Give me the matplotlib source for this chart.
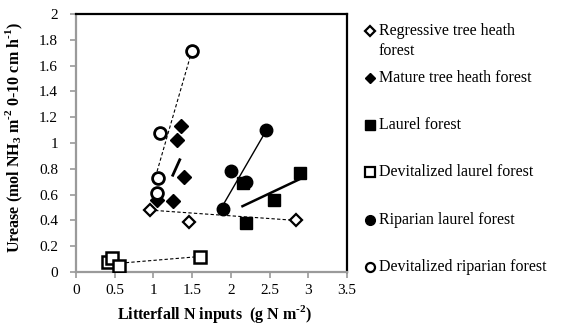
import matplotlib
matplotlib.use("Agg")
import matplotlib.pyplot as plt
from matplotlib.lines import Line2D
import numpy as np

plt.rcParams['font.family'] = ['Liberation Serif', 'DejaVu Serif']
plt.rcParams['mathtext.fontset'] = 'custom'
plt.rcParams['mathtext.rm'] = 'Liberation Serif:bold'
plt.rcParams['mathtext.bf'] = 'Liberation Serif:bold'

# litterfall N inputs (g N m-2) and urease activity per forest type
regressive_x = [0.95, 1.46, 2.84]
regressive_y = [0.48, 0.39, 0.40]
mature_x = [1.04, 1.25, 1.40, 1.30, 1.35]
mature_y = [0.56, 0.55, 0.74, 1.02, 1.13]
laurel_x = [2.20, 2.56, 2.89, 2.16]
laurel_y = [0.38, 0.56, 0.765, 0.69]
devit_laurel_x = [0.41, 0.46, 0.55, 1.60]
devit_laurel_y = [0.08, 0.105, 0.05, 0.12]
riparian_x = [1.90, 2.00, 2.20, 2.46]
riparian_y = [0.49, 0.78, 0.70, 1.10]
devit_riparian_x = [1.05, 1.06, 1.08, 1.50]
devit_riparian_y = [0.61, 0.73, 1.08, 1.71]

# trend line end points
regressive_fit = ([0.95, 2.84], [0.48, 0.40])
mature_fit = ([1.25, 1.34], [0.75, 0.87])
laurel_fit = ([2.15, 2.89], [0.51, 0.72])
devit_laurel_fit = ([0.50, 1.60], [0.065, 0.12])
riparian_fit = ([1.90, 2.46], [0.52, 1.10])
devit_riparian_fit = ([1.047, 1.49], [0.78, 1.70])

labels = ["Regressive tree heath\nforest", "Mature tree heath forest",
          "Laurel forest", "Devitalized laurel forest",
          "Riparian laurel forest", "Devitalized riparian forest"]

fig = plt.figure(figsize=(5.61, 3.30), dpi=100)
ax = fig.add_axes([76 / 561, 1 - 272 / 330, 271 / 561, 258 / 330])

ax.plot(*regressive_fit, ls=(0, (3, 2)), color='black', lw=0.8)
ax.plot(*mature_fit, color='black', lw=2.0)
ax.plot(*laurel_fit, color='black', lw=1.8)
ax.plot(*devit_laurel_fit, ls=(0, (3, 2)), color='black', lw=0.8)
ax.plot(*riparian_fit, color='black', lw=1.0)
ax.plot(*devit_riparian_fit, ls=(0, (3, 2)), color='black', lw=0.8)

styles = [
    dict(marker='D', ms=6.5, mfc='white', mec='black', mew=1.6),
    dict(marker='D', ms=7.0, mfc='black', mec='black', mew=1.0),
    dict(marker='s', ms=9.0, mfc='black', mec='black', mew=1.0),
    dict(marker='s', ms=8.5, mfc='white', mec='black', mew=1.8),
    dict(marker='o', ms=9.0, mfc='black', mec='black', mew=1.0),
    dict(marker='o', ms=8.5, mfc='white', mec='black', mew=2.0),
]
series = [(regressive_x, regressive_y), (mature_x, mature_y),
          (laurel_x, laurel_y), (devit_laurel_x, devit_laurel_y),
          (riparian_x, riparian_y), (devit_riparian_x, devit_riparian_y)]
for (xs, ys), st in zip(series, styles):
    ax.plot(xs, ys, ls='none', zorder=3, **st)

ax.set_xlim(0, 3.5)
ax.set_ylim(0, 2)
ax.set_xticks(np.arange(0, 3.51, 0.5))
ax.set_yticks(np.arange(0, 2.01, 0.2))
ax.set_xticklabels(['0', '0.5', '1', '1.5', '2', '2.5', '3', '3.5'])
ax.set_yticklabels(['0', '0.2', '0.4', '0.6', '0.8', '1', '1.2', '1.4',
                    '1.6', '1.8', '2'])
ax.tick_params(direction='out', length=4, width=1.2, color='#9a9a9a',
               labelsize=11)
ax.tick_params(axis='y', pad=9)
ax.tick_params(axis='x', pad=5)
for side in ['left', 'bottom']:
    ax.spines[side].set_color('#9a9a9a')
    ax.spines[side].set_linewidth(1.6)
for side in ['top', 'right']:
    ax.spines[side].set_color('black')
    ax.spines[side].set_linewidth(1.6)

ax.set_xlabel(r"Litterfall N inputs  (g N m$^{\text{-}2}$)", fontsize=11.5,
              fontweight='bold')
ax.set_ylabel(r"Urease (mol NH$_{3}$ m$^{\text{-}2}$ 0-10 cm h$^{\text{-}1}$)",
              fontsize=11.5, fontweight='bold')
ax.xaxis.set_label_coords(0.51, -0.12)
ax.yaxis.set_label_coords(-0.19, 0.52)

# legend drawn in pixel coordinates to the right of the plot area
lax = fig.add_axes([0, 0, 1, 1], facecolor='none')
lax.set_xlim(0, 561)
lax.set_ylim(330, 0)
lax.axis('off')
legend_y = [31, 78, 125, 172, 220, 267]
legend_ms = [5.0, 5.5, 7.0, 6.5, 7.0, 6.5]
for y, lab, st, ms in zip(legend_y, labels, styles, legend_ms):
    s = dict(st)
    s['ms'] = ms
    s['mew'] = min(st['mew'], 1.6)
    lax.add_line(Line2D([370], [y], ls='none', **s))
    lines = lab.split('\n')
    for k, line in enumerate(lines):
        lax.text(379, y + 20 * k, line, fontsize=11.5, va='center', ha='left')

fig.savefig('out.png', dpi=100)
